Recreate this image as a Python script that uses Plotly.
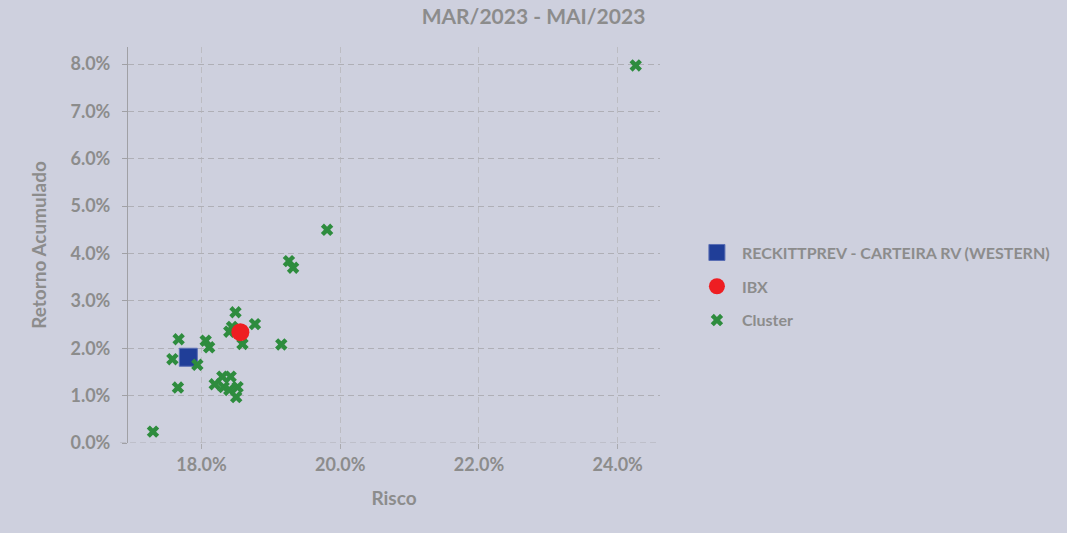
import plotly.graph_objects as go

# Data (percent values)
portfolio_name = "RECKITTPREV - CARTEIRA RV (WESTERN)"
portfolio_risk = [17.81]
portfolio_ret = [1.81]

ibx_name = "IBX"
ibx_risk = [18.56]
ibx_ret = [2.34]

cluster_name = "Cluster"
cluster_risk = [17.30, 17.66, 17.58, 17.67, 17.94, 18.06, 18.11, 18.49, 18.40, 18.44,
                18.77, 18.59, 19.15, 19.26, 19.32, 19.81, 24.26, 18.19, 18.30, 18.42,
                18.32, 18.40, 18.52, 18.50]
cluster_ret = [0.24, 1.17, 1.77, 2.19, 1.65, 2.16, 2.02, 2.76, 2.35, 2.45,
               2.51, 2.09, 2.08, 3.84, 3.70, 4.50, 7.97, 1.24, 1.40, 1.40,
               1.18, 1.12, 1.18, 0.97]

x_ticks = [18, 20, 22, 24]
y_ticks = [0, 1, 2, 3, 4, 5, 6, 7, 8]

BG = "rgb(206,208,222)"
TXT = "rgb(140,140,140)"
GRID = "rgb(188,188,194)"
FONT = "Lato"

fig = go.Figure()
fig.add_trace(go.Scatter(
    x=portfolio_risk, y=portfolio_ret, mode="markers", name=portfolio_name,
    marker=dict(symbol="square", size=18, color="rgb(32,62,152)",
                line=dict(color="rgb(90,110,180)", width=1)),
    legendrank=1, legendgroup="a"))
fig.add_trace(go.Scatter(
    x=cluster_risk, y=cluster_ret, mode="markers", name=cluster_name,
    marker=dict(symbol="x", size=11, color="rgb(46,140,62)", line=dict(width=0)),
    legendrank=3, legendgroup="c"))
fig.add_trace(go.Scatter(
    x=ibx_risk, y=ibx_ret, mode="markers", name=ibx_name,
    marker=dict(symbol="circle", size=18, color="rgb(238,30,34)", line=dict(width=0)),
    legendrank=2, legendgroup="b"))

# dashed baseline along the x axis (as in the reference)
fig.add_shape(type="line", xref="paper", yref="y", x0=-0.015, x1=1, y0=0, y1=0,
              line=dict(color="rgb(175,175,182)", width=1, dash="6px,4px"), layer="below")

fig.update_layout(
    width=1067, height=533,
    paper_bgcolor=BG, plot_bgcolor=BG,
    margin=dict(l=128, r=404, t=47, b=90),
    font=dict(family=FONT, color=TXT, size=16, weight="bold"),
    title=dict(text="MAR/2023 - MAI/2023", x=0.5, xanchor="center", y=0.968, yanchor="middle",
               font=dict(family=FONT, size=21, color=TXT, weight="bold")),
    showlegend=True,
    legend=dict(x=1.06, xanchor="left", y=0.395, yanchor="middle",
                traceorder="grouped", tracegroupgap=10, itemwidth=40,
                font=dict(family=FONT, size=16, color=TXT, weight="bold"),
                bgcolor="rgba(0,0,0,0)"),
)
fig.update_xaxes(
    range=[16.94, 24.61], tickvals=x_ticks, ticktext=[f"{v:.1f}%" for v in x_ticks],
    showgrid=True, gridcolor=GRID, griddash="6px,4px", gridwidth=1,
    zeroline=False, showline=False,
    ticks="outside", ticklen=5, tickcolor="rgb(170,170,175)",
    tickfont=dict(family=FONT, size=18, color=TXT, weight="bold"),
    title=dict(text="Risco", standoff=18, font=dict(family=FONT, size=19, color=TXT, weight="bold")),
)
fig.update_yaxes(
    range=[0, 8.36], tickvals=y_ticks, ticktext=[f"{v:.1f}%" for v in y_ticks],
    showgrid=True, gridcolor="rgb(175,175,182)", griddash="6px,4px", gridwidth=1,
    zeroline=False, showline=True, linecolor="rgb(160,160,165)", linewidth=1,
    ticks="outside", ticklen=5, tickcolor="rgb(160,160,165)",
    ticklabelstandoff=8,
    tickfont=dict(family=FONT, size=18, color=TXT, weight="bold"),
    title=dict(text="Retorno Acumulado", standoff=18, font=dict(family=FONT, size=19, color=TXT, weight="bold")),
)

fig.write_html("out.html", config={"displayModeBar": False},
               post_script="document.body.style.margin='0';")
